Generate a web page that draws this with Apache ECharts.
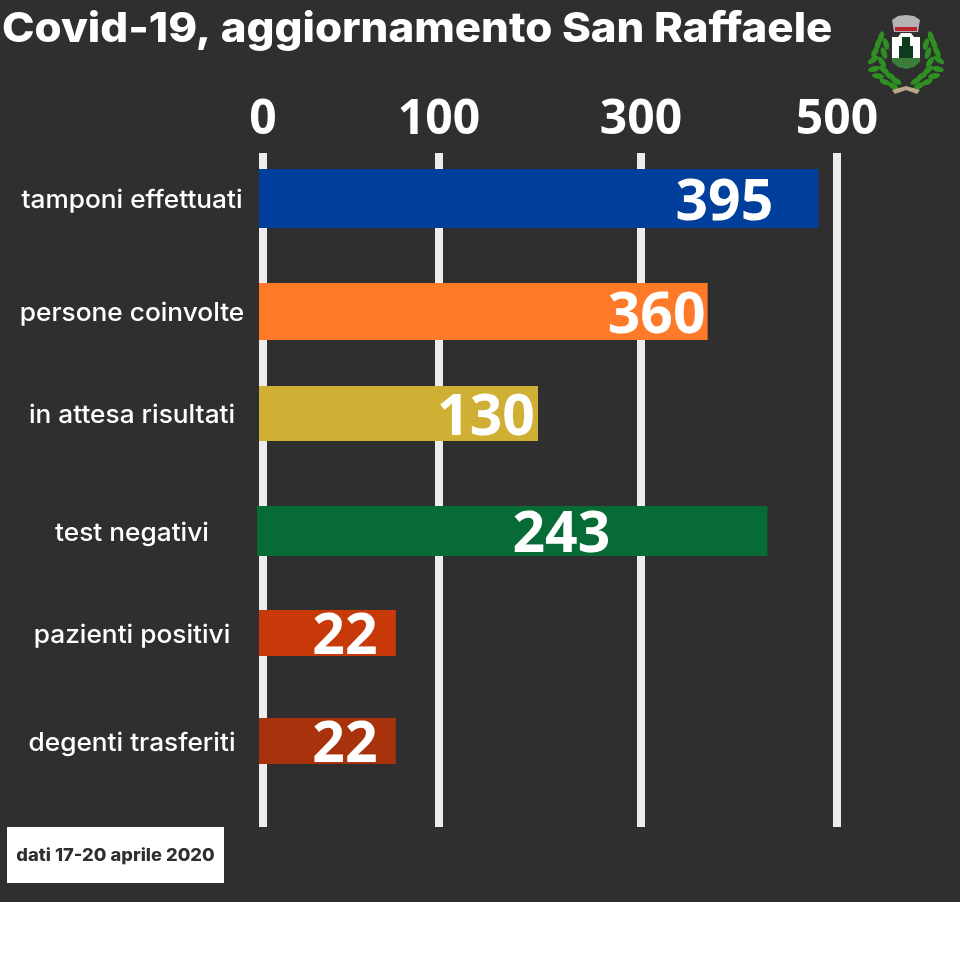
<!DOCTYPE html>
<html><head><meta charset="utf-8">
<style>html,body{margin:0;padding:0;background:#fff}#c{width:960px;height:960px}</style>
<script src="https://cdn.jsdelivr.net/npm/echarts@6/dist/echarts.min.js"></script>
</head><body><div id="c"></div>
<script>
const titleText = 'Covid-19, aggiornamento San Raffaele';
const noteText = 'dati 17-20 aprile 2020';
const categories = ['tamponi effettuati','persone coinvolte','in attesa risultati','test negativi','pazienti positivi','degenti trasferiti'];
// Numbers printed on the bars
const printedValues = [395,360,130,243,22,22];
// Where each bar actually ends when read against the (irregular) printed axis
const barReach = [481,368,198,429,75.5,75.5];
const barColors = ['#003f9c','#ff7a28','#cfb035','#066b36','#c8390a','#a8320c'];
// Printed axis ticks and their places on the drawing axis
const tickLabels = [0,100,300,500];
const tickPlaces = [0,176,378,574];
// Row layout
const rowCenters = [45.5,158.5,260.5,378,480,588];
const rowHeights = [59,57,55,50,46,46];
const barStarts = [-4,-4,-4,-6,-4,-4];
const labelBack = [94,51,52,206,51,51];

function toAxis(v){
  for(let i=1;i<tickLabels.length;i++){
    if(v<=tickLabels[i]){
      const a=tickLabels[i-1],b=tickLabels[i];
      return tickPlaces[i-1]+(v-a)/(b-a)*(tickPlaces[i]-tickPlaces[i-1]);
    }
  }
  return tickPlaces[tickPlaces.length-1];
}
const rows = categories.map((c,i)=>[barStarts[i],toAxis(barReach[i]),rowCenters[i],rowHeights[i],i]);

const leaves=[];
const leafPts=[[881,37,-75],[878,44,-70],[875,52,-60],[873,60,-35],[874,69,-15],[878,76,10],[885,82,25],[893,86,30],
               [886,44,-105],[884,53,-110],[882,62,-125],[884,70,-140],[890,76,-150],[896,81,-150]];
leafPts.forEach(p=>{
  [0,1].forEach(m=>{
    const x=m?2*906-p[0]:p[0];
    const r=(m?180-p[2]:p[2])*Math.PI/180;
    leaves.push({type:'ellipse',x:x,y:p[1],rotation:-r,shape:{cx:0,cy:0,rx:6,ry:2.8},style:{fill:'#2f8f22'},z:5});
  });
});

const crest=[
 {type:'polygon',shape:{points:[[892,20],[898,16],[906,15],[914,16],[920,20],[918,32],[894,32]]},style:{fill:'#b4b4b4'},z:5},
 {type:'rect',shape:{x:895,y:27,width:22,height:4},style:{fill:'#b8202c'},z:6},
 {type:'polygon',shape:{points:[[892,59],[892,37],[898,37],[901,33],[911,33],[914,37],[920,37],[920,59]]},style:{fill:'#ffffff'},z:5},
 {type:'polygon',shape:{points:[[892,58],[920,58],[920,62],[914,67],[906,69],[898,67],[892,62]]},style:{fill:'#3c7d3c'},z:5},
 {type:'rect',shape:{x:899,y:46,width:14,height:12},style:{fill:'#0e3b1e'},z:6},
 {type:'rect',shape:{x:902,y:37,width:8,height:12},style:{fill:'#0e3b1e'},z:6},
 {type:'polygon',shape:{points:[[892,90],[906,86],[920,90],[917,94],[906,90],[895,94]]},style:{fill:'#b9a98a'},z:6}
].concat(leaves);

const option = {
  animation:false,
  backgroundColor:'#ffffff',
  graphic:[
    {type:'rect',z:-10,shape:{x:0,y:0,width:960,height:902},style:{fill:'#2f2f2f'}},
    {type:'text',z:5,x:2,y:30,scaleX:1.068,style:{text:titleText,fill:'#ffffff',font:'800 41px Inter',textVerticalAlign:'middle'}},
    {type:'rect',z:5,shape:{x:7,y:827,width:217,height:56},style:{fill:'#ffffff'}},
    {type:'text',z:6,x:115.5,y:856,scaleX:1.077,style:{text:noteText,fill:'#2f2f2f',font:'800 17px Inter',textAlign:'center',textVerticalAlign:'middle'}}
  ].concat(crest),
  grid:{left:255,width:582,top:153,height:674,containLabel:false},
  xAxis:{
    type:'value',position:'top',min:-8,max:574,
    axisLine:{show:false},
    axisTick:{show:false,customValues:tickPlaces},
    axisLabel:{customValues:tickPlaces,margin:9,color:'#ffffff',fontFamily:'Open Sans',fontWeight:700,fontSize:48,
      formatter:v=>String(tickLabels[tickPlaces.indexOf(v)])},
    splitLine:{show:true,lineStyle:{color:'#ececec',width:8,type:'solid'}}
  },
  yAxis:{
    type:'value',inverse:true,min:0,max:674,
    axisLine:{show:false},
    axisTick:{show:false},
    splitLine:{show:false},
    axisLabel:{show:false}
  },
  series:[{
    type:'custom',
    coordinateSystem:'cartesian2d',
    clip:false,
    encode:{x:[0,1],y:2},
    data:rows,
    renderItem(params,api){
      const i=api.value(4);
      const a=api.coord([api.value(0),api.value(2)]);
      const b=api.coord([api.value(1),api.value(2)]);
      const h=api.size([0,api.value(3)])[1];
      return {type:'group',children:[
        {type:'rect',shape:{x:a[0],y:a[1]-h/2,width:b[0]-a[0],height:h},style:{fill:barColors[i]}},
        {type:'text',x:b[0]-labelBack[i],y:a[1]+5,style:{text:String(printedValues[i]),fill:'#ffffff',
          font:'700 57px "Open Sans"',textAlign:'center',textVerticalAlign:'middle'}},
        {type:'text',x:params.coordSys.x-123,y:a[1]+2,scaleX:1.05,style:{text:categories[i],fill:'#ffffff',
          font:'500 25px Inter',textAlign:'center',textVerticalAlign:'middle'}}
      ]};
    }
  }]
};
echarts.init(document.getElementById('c'),null,{renderer:'canvas'}).setOption(option);
</script></body></html>
